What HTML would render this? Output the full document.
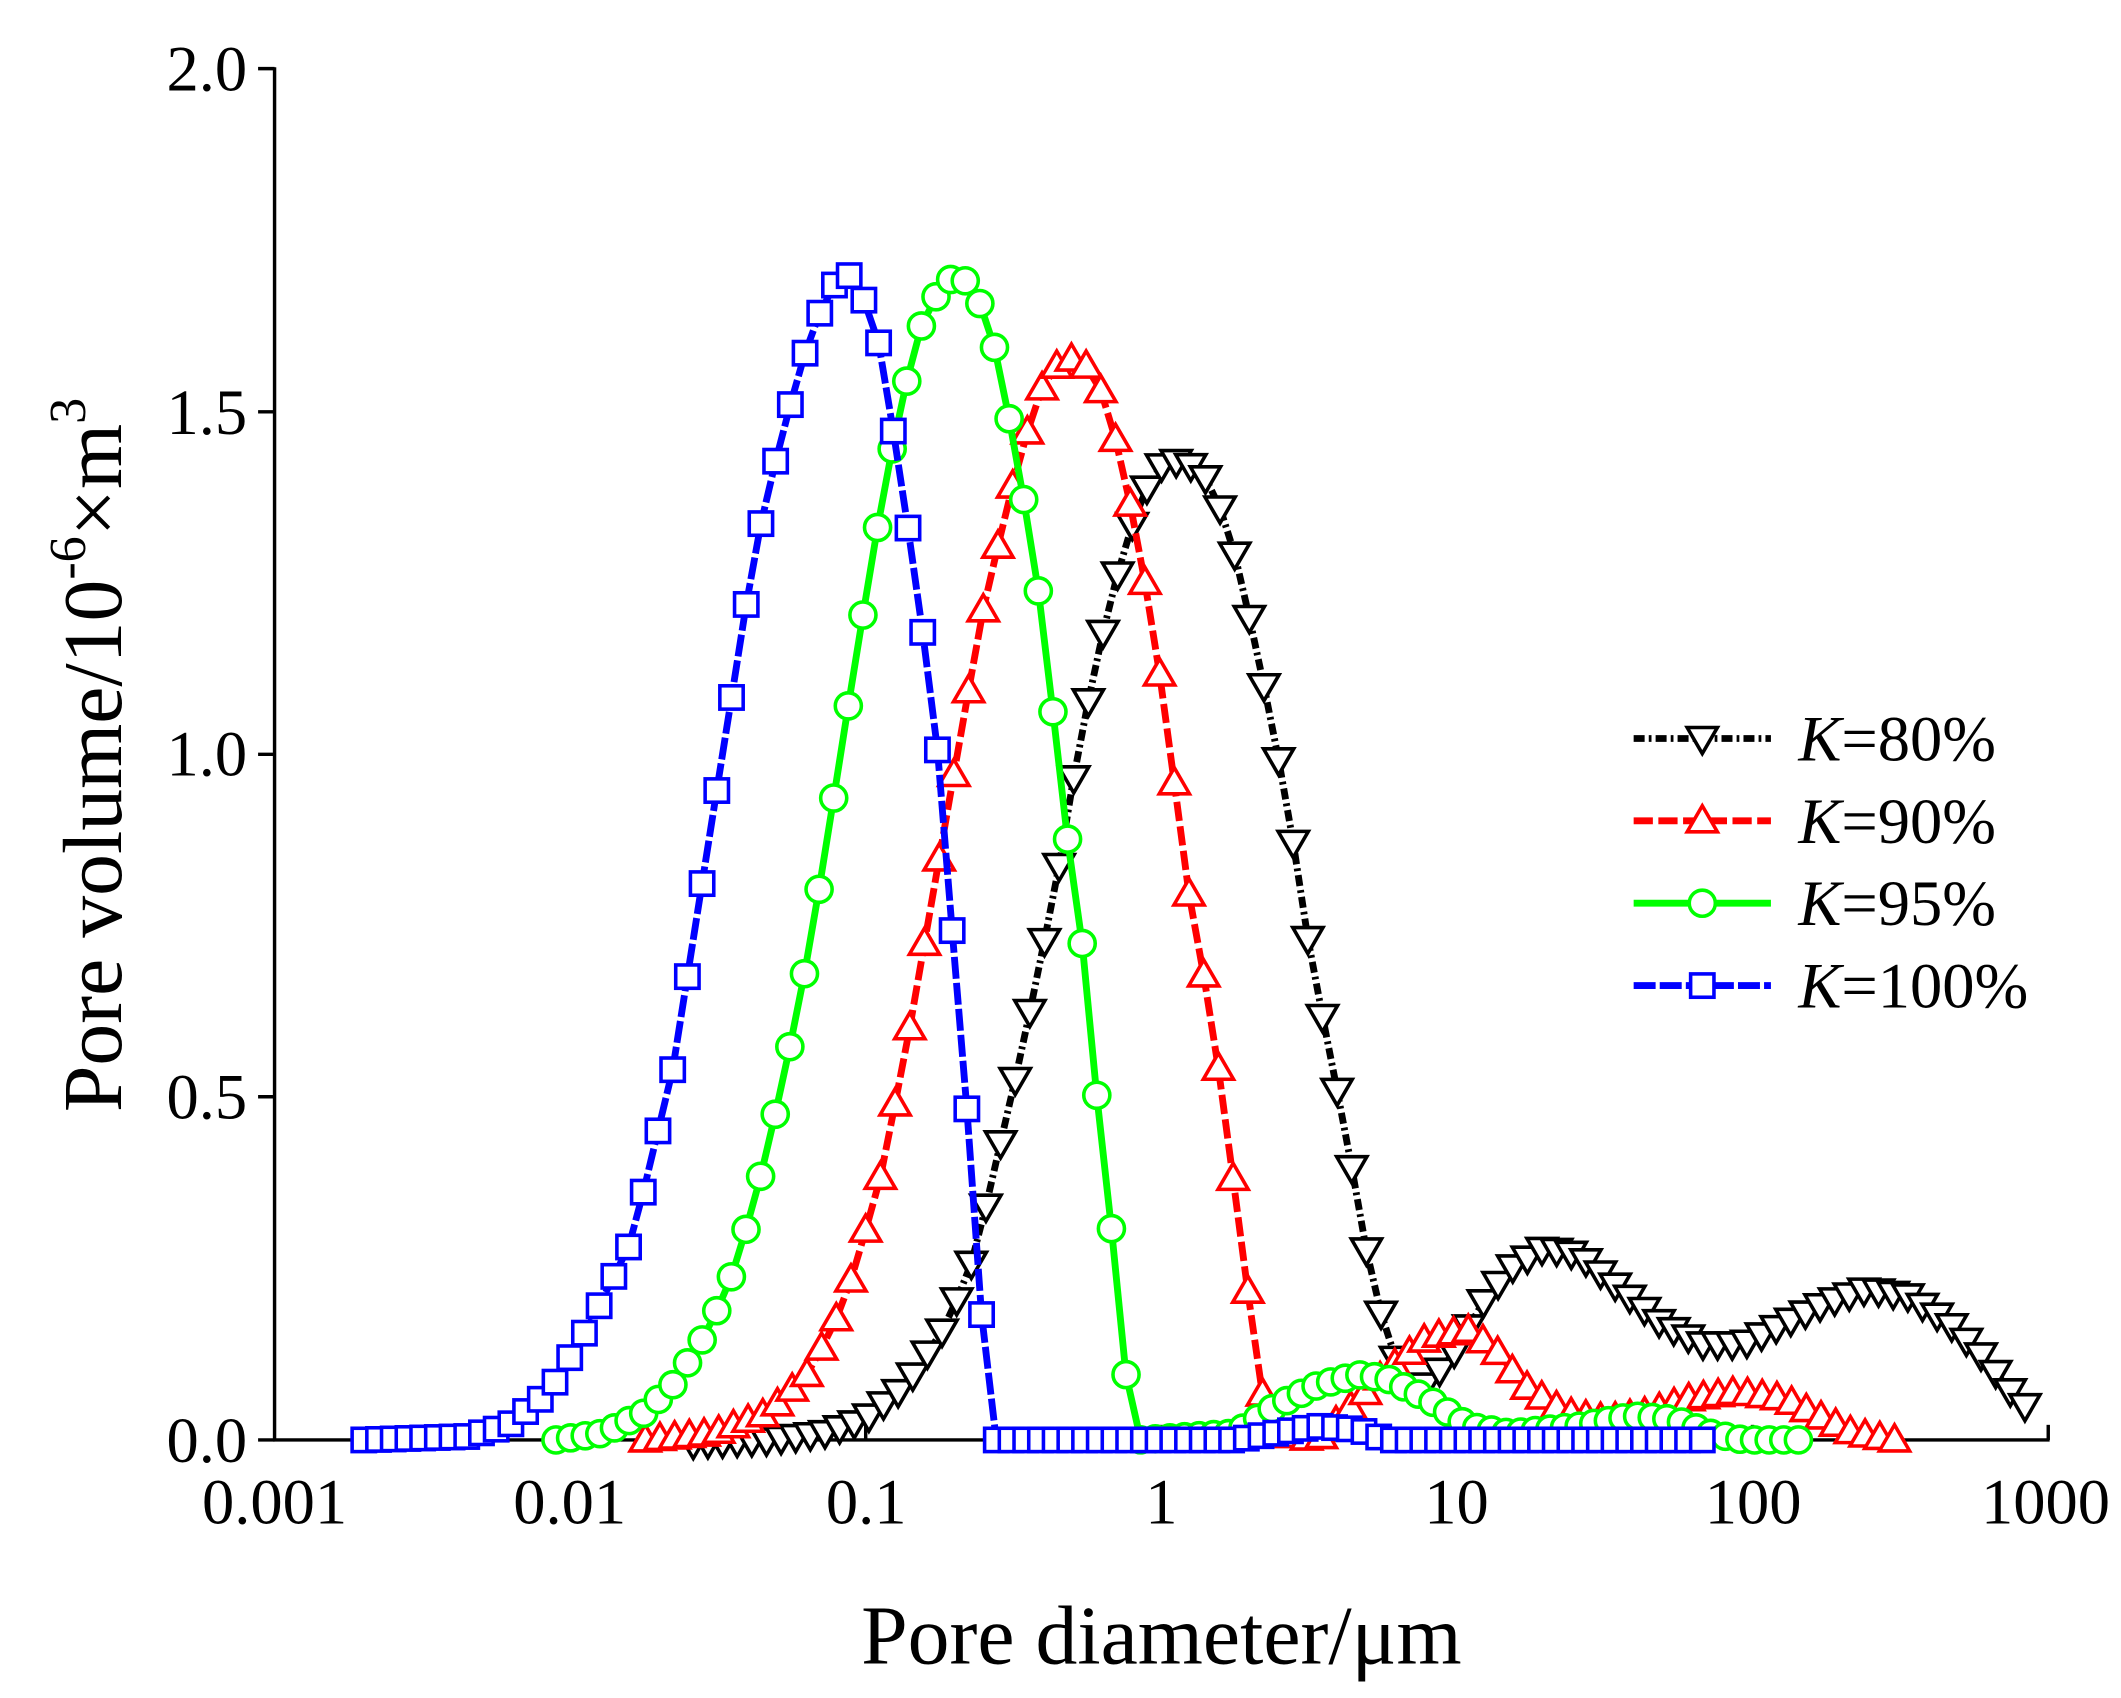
<!DOCTYPE html>
<html><head><meta charset="utf-8"><style>
html,body{margin:0;padding:0;background:#fff;}
svg{display:block;}
text{font-family:"Liberation Serif",serif;fill:#000;}
</style></head><body>
<svg id="s" width="2121" height="1698" viewBox="0 0 1545 1237" preserveAspectRatio="none" xmlns="http://www.w3.org/2000/svg">
<g stroke="#000" stroke-width="2.5" fill="none">
<line x1="200" y1="49" x2="200" y2="1050"/>
<line x1="199" y1="1049" x2="1493" y2="1049"/>
<line x1="188" y1="50" x2="200" y2="50"/>
<line x1="188" y1="300" x2="200" y2="300"/>
<line x1="188" y1="549.5" x2="200" y2="549.5"/>
<line x1="188" y1="799" x2="200" y2="799"/>
<line x1="188" y1="1049" x2="200" y2="1049"/>
<line x1="415.3" y1="1049" x2="415.3" y2="1038"/>
<line x1="630.6" y1="1049" x2="630.6" y2="1038"/>
<line x1="846" y1="1049" x2="846" y2="1038"/>
<line x1="1061.3" y1="1049" x2="1061.3" y2="1038"/>
<line x1="1276.6" y1="1049" x2="1276.6" y2="1038"/>
<line x1="1492" y1="1049" x2="1492" y2="1038"/>
</g>
<g font-size="47" text-anchor="end">
<text x="180" y="66">2.0</text>
<text x="180" y="316">1.5</text>
<text x="180" y="565">1.0</text>
<text x="180" y="815">0.5</text>
<text x="180" y="1065">0.0</text>
</g>
<g font-size="47" text-anchor="middle">
<text x="200" y="1110">0.001</text>
<text x="415" y="1110">0.01</text>
<text x="631" y="1110">0.1</text>
<text x="846" y="1110">1</text>
<text x="1061" y="1110">10</text>
<text x="1277" y="1110">100</text>
<text x="1490" y="1110">1000</text>
</g>
<text x="846" y="1212" font-size="61" text-anchor="middle">Pore diameter/μm</text>
<text transform="translate(88,550) rotate(-90)" font-size="61" text-anchor="middle">Pore volume/10<tspan font-size="38" dy="-26">-6</tspan><tspan dy="26">×m</tspan><tspan font-size="38" dy="-26">3</tspan></text>
<g id="curves"></g>
<g font-size="47">
<text x="1310" y="554"><tspan font-style="italic">K</tspan>=80%</text>
<text x="1310" y="614"><tspan font-style="italic">K</tspan>=90%</text>
<text x="1310" y="674"><tspan font-style="italic">K</tspan>=95%</text>
<text x="1310" y="734"><tspan font-style="italic">K</tspan>=100%</text>
</g>
</svg>
<script>
var NS="http://www.w3.org/2000/svg";
function Y(v){return 1049-v*499.5;}
var series=[
{c:"#000",dash:"8,3,2,3",m:"tri-down",ly:538,p:[[505,-0.005],[560,0],[600,0.01],[630,0.03],[660,0.08],[690,0.17],[710,0.27],[725,0.40],[740,0.53],[755,0.67],[770,0.82],[785,1.00],[800,1.15],[815,1.27],[830,1.37],[845,1.42],[862,1.43],[880,1.40],[895,1.33],[910,1.20],[925,1.06],[940,0.90],[950,0.76],[965,0.60],[980,0.45],[995,0.28],[1010,0.15],[1025,0.08],[1040,0.08],[1060,0.13],[1080,0.20],[1100,0.25],[1125,0.28],[1150,0.27],[1180,0.22],[1210,0.17],[1240,0.14],[1270,0.14],[1300,0.17],[1330,0.20],[1360,0.22],[1390,0.21],[1420,0.17],[1445,0.12],[1465,0.07],[1475,0.05]]},
{c:"#f00",dash:"14,4",m:"tri-up",ly:598,p:[[470,0],[520,0.01],[560,0.04],[590,0.10],[615,0.20],[640,0.37],[660,0.57],[680,0.80],[700,1.03],[715,1.20],[730,1.33],[745,1.45],[760,1.54],[775,1.58],[790,1.57],[805,1.52],[820,1.40],[835,1.24],[850,1.05],[863,0.83],[875,0.70],[885,0.58],[895,0.43],[905,0.28],[915,0.12],[922,0.04],[930,0.01],[960,0],[985,0.05],[1010,0.10],[1040,0.15],[1070,0.16],[1090,0.13],[1110,0.08],[1140,0.04],[1170,0.03],[1200,0.04],[1230,0.06],[1265,0.07],[1300,0.06],[1330,0.03],[1350,0.01],[1380,0]]},
{c:"#0f0",dash:"",m:"circ",ly:658,p:[[405,0],[440,0.01],[470,0.04],[490,0.08],[510,0.14],[530,0.22],[550,0.35],[570,0.52],[590,0.72],[610,0.97],[625,1.16],[640,1.34],[655,1.50],[670,1.62],[685,1.68],[697,1.70],[710,1.68],[725,1.59],[740,1.44],[755,1.26],[765,1.10],[775,0.91],[786,0.77],[793,0.63],[800,0.48],[808,0.34],[815,0.20],[822,0.06],[830,0],[900,0.01],[930,0.05],[960,0.08],[990,0.095],[1010,0.09],[1040,0.06],[1070,0.02],[1100,0.01],[1150,0.02],[1190,0.035],[1220,0.03],[1245,0.01],[1270,0],[1310,0]]},
{c:"#00f",dash:"16,3",m:"sq",ly:718,p:[[265,0],[340,0.005],[370,0.02],[400,0.07],[430,0.17],[460,0.29],[490,0.54],[520,0.92],[550,1.30],[570,1.47],[590,1.61],[605,1.68],[618,1.70],[630,1.66],[640,1.60],[655,1.42],[670,1.21],[680,1.06],[688,0.91],[694,0.73],[702,0.54],[710,0.34],[717,0.12],[722,0],[900,0],[930,0.01],[960,0.02],[990,0.015],[1010,0],[1240,0]]}
];
function interp(p,x){for(var i=0;i<p.length-1;i++){if(x>=p[i][0]&&x<=p[i+1][0]){var t=(x-p[i][0])/(p[i+1][0]-p[i][0]);return p[i][1]+t*(p[i+1][1]-p[i][1]);}}return p[p.length-1][1];}
function marker(g,type,x,y,c){var e;var r=9.5;
if(type=="sq"){e=document.createElementNS(NS,"rect");e.setAttribute("x",x-8.5);e.setAttribute("y",y-8.5);e.setAttribute("width",17);e.setAttribute("height",17);}
else if(type=="circ"){e=document.createElementNS(NS,"circle");e.setAttribute("cx",x);e.setAttribute("cy",y);e.setAttribute("r",r);}
else if(type=="tri-up"){e=document.createElementNS(NS,"polygon");e.setAttribute("points",(x)+","+(y-11)+" "+(x-11)+","+(y+8)+" "+(x+11)+","+(y+8));}
else{e=document.createElementNS(NS,"polygon");e.setAttribute("points",(x)+","+(y+11)+" "+(x-11)+","+(y-8)+" "+(x+11)+","+(y-8));}
e.setAttribute("fill","#fff");e.setAttribute("stroke",c);e.setAttribute("stroke-width","2.6");g.appendChild(e);}
var G=document.getElementById("curves");
series.forEach(function(s){
var p=s.p,pts=[],x0=p[0][0],x1=p[p.length-1][0];
var n=Math.round((x1-x0)/10.7);
for(var i=0;i<=n;i++){var x=x0+(x1-x0)*i/n;pts.push([x,Y(interp(p,x))]);}
var g=document.createElementNS(NS,"g");
var pl=document.createElementNS(NS,"polyline");
pl.setAttribute("points",pts.map(function(q){return q[0].toFixed(1)+","+q[1].toFixed(1)}).join(" "));
pl.setAttribute("fill","none");pl.setAttribute("stroke",s.c);pl.setAttribute("stroke-width","5");
if(s.dash)pl.setAttribute("stroke-dasharray",s.dash);
g.appendChild(pl);
pts.forEach(function(q){marker(g,s.m,q[0],q[1],s.c);});
var ll=document.createElementNS(NS,"line");
ll.setAttribute("x1",1190);ll.setAttribute("x2",1290);ll.setAttribute("y1",s.ly);ll.setAttribute("y2",s.ly);
ll.setAttribute("stroke",s.c);ll.setAttribute("stroke-width","5");if(s.dash)ll.setAttribute("stroke-dasharray",s.dash);
g.appendChild(ll);marker(g,s.m,1240,s.ly,s.c);
G.appendChild(g);
});
</script>
</body></html>
